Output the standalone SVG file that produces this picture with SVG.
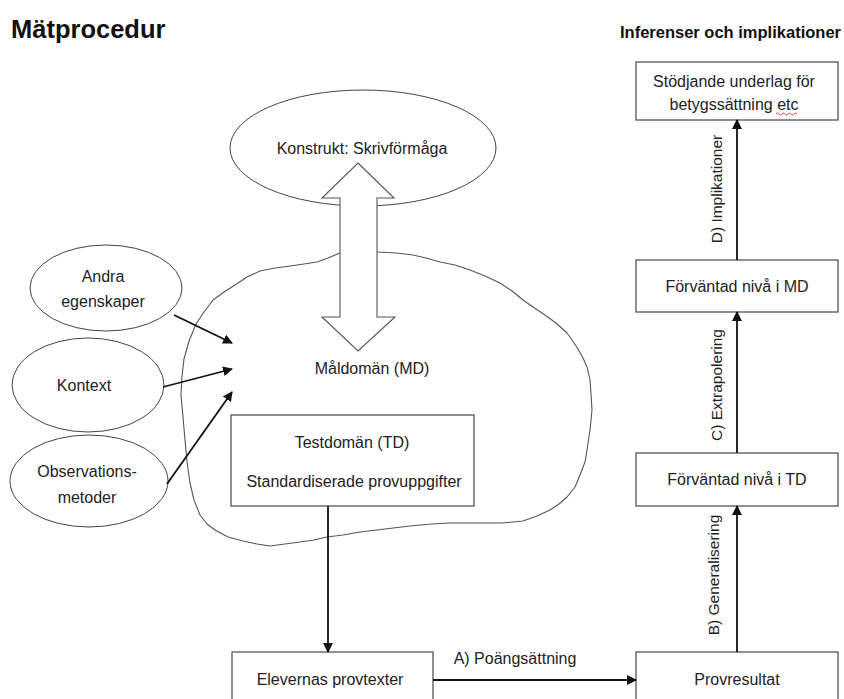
<svg xmlns="http://www.w3.org/2000/svg" width="844" height="699" viewBox="0 0 844 699">
<defs>
<style>
.t{font-family:"Liberation Sans",Arial,sans-serif;font-size:16px;fill:#222;text-anchor:middle}
.r{font-size:15.5px}
.h{font-family:"Liberation Sans",Arial,sans-serif;font-weight:bold;fill:#111}
.box{fill:#fff;stroke:#555;stroke-width:1.3}
.ell{fill:#fff;stroke:#444;stroke-width:1}
.con{fill:none;stroke:#111;stroke-width:1.8;marker-end:url(#ah)}
</style>
<marker id="ah" viewBox="0 0 10 10" refX="9" refY="5" markerWidth="5.5" markerHeight="5.5" orient="auto" markerUnits="strokeWidth">
<path d="M0,0 L10,5 L0,10 z" fill="#111"/>
</marker>
</defs>
<rect width="844" height="699" fill="#fff"/>
<text class="h" x="11" y="38" font-size="25.5">Mätprocedur</text>
<text class="h" x="620" y="38" font-size="16.5">Inferenser och implikationer</text>

<g id="cloud">
<path d="M340,253 L328,258 L317,262 L304,264 L290,266 L275,268 L260,271 L247,277 L235,285 L224,292 L213,300 L204,312 L196,324 L189,341 L184,359 L182,376 L181,395 L183,417 L185,440 L187,462 L190,483 L194,500 L200,515 L207,524 L215,530 L228,537 L243,541 L257,544 L270,546 L285,544 L300,542 L314,540 L327,537 L343,535 L360,532 L385,529 L410,526 L432,524 L450,523 L466,523 L480,523 L502,523 L523,521 L537,516 L550,510 L559,504 L567,497 L575,487 L580,475 L585,462 L587,450 L590,430 L592,410 L591,394 L590,380 L587,367 L583,358 L578,349 L572,340 L567,333 L556,323 L545,315 L533,307 L523,300 L512,291 L500,283 L485,276 L470,270 L455,265 L440,262 L426,258 L413,255 L396,253 L377,252 L358,252 Z" fill="none" stroke="#555" stroke-width="1.1" stroke-linejoin="round"/>
</g>

<g id="konstrukt">
<ellipse class="ell" cx="363" cy="148" rx="133" ry="58"/>
<text class="t" x="362" y="154">Konstrukt: Skrivförmåga</text>
</g>

<g id="dubbelpil">
<path d="M358,163 L394,198 L377,198 L377,317 L395,317 L358,351 L322,317 L340,317 L340,198 L322,198 Z" fill="#fff" stroke="#555" stroke-width="1.1"/>
</g>

<g id="maldoman">
<text class="t" x="372" y="374">Måldomän (MD)</text>
</g>

<g id="andra">
<ellipse class="ell" cx="106" cy="288" rx="76" ry="43"/>
<text class="t" x="103" y="282">Andra</text>
<text class="t" x="103" y="307">egenskaper</text>
</g>
<g id="kontext">
<ellipse class="ell" cx="88" cy="385" rx="76" ry="47"/>
<text class="t" x="84" y="391">Kontext</text>
</g>
<g id="observation">
<ellipse class="ell" cx="89" cy="481" rx="79" ry="46"/>
<text class="t" x="87" y="477">Observations-</text>
<text class="t" x="87" y="503">metoder</text>
</g>

<g id="testdoman">
<rect class="box" x="231" y="415" width="243" height="91"/>
<text class="t" x="352" y="448">Testdomän (TD)</text>
<text class="t" x="354" y="487">Standardiserade provuppgifter</text>
</g>

<g id="elevernas">
<rect class="box" x="232" y="652" width="201" height="60"/>
<text class="t" x="330" y="685">Elevernas provtexter</text>
</g>

<g id="provresultat">
<rect class="box" x="636" y="652" width="202" height="60"/>
<text class="t" x="737" y="685">Provresultat</text>
</g>

<g id="forvantad-td">
<rect class="box" x="636" y="453" width="202" height="53"/>
<text class="t" x="737" y="485">Förväntad nivå i TD</text>
</g>

<g id="forvantad-md">
<rect class="box" x="636" y="260" width="202" height="52"/>
<text class="t" x="737" y="292">Förväntad nivå i MD</text>
</g>

<g id="stodjande">
<rect class="box" x="636" y="62" width="202" height="58"/>
<text class="t" x="734" y="87">Stödjande underlag för</text>
<text class="t" x="734" y="110">betygssättning etc</text>
<path d="M776,114 q1.5,-2 3,0 t3,0 t3,0 t3,0 t3,0 t3,0 t3,0" fill="none" stroke="#d22" stroke-width="0.8"/>
</g>

<g id="connectors">
<line class="con" x1="174" y1="315" x2="232" y2="343"/>
<line class="con" x1="163" y1="387" x2="232" y2="369"/>
<line class="con" x1="167" y1="484" x2="232" y2="392"/>
<line class="con" x1="328" y1="506" x2="328" y2="652"/>
<line class="con" x1="433" y1="680" x2="636" y2="680"/>
<line class="con" x1="737" y1="652" x2="737" y2="506"/>
<line class="con" x1="737" y1="453" x2="737" y2="312"/>
<line class="con" x1="737" y1="260" x2="737" y2="120"/>
<text class="t" x="515" y="664">A)  Poängsättning</text>
<text class="t r" x="719" y="575" transform="rotate(-90 719 575)">B)  Generalisering</text>
<text class="t r" x="722" y="385" transform="rotate(-90 722 385)">C)  Extrapolering</text>
<text class="t r" x="722" y="189" transform="rotate(-90 722 189)">D)  Implikationer</text>
</g>
</svg>
